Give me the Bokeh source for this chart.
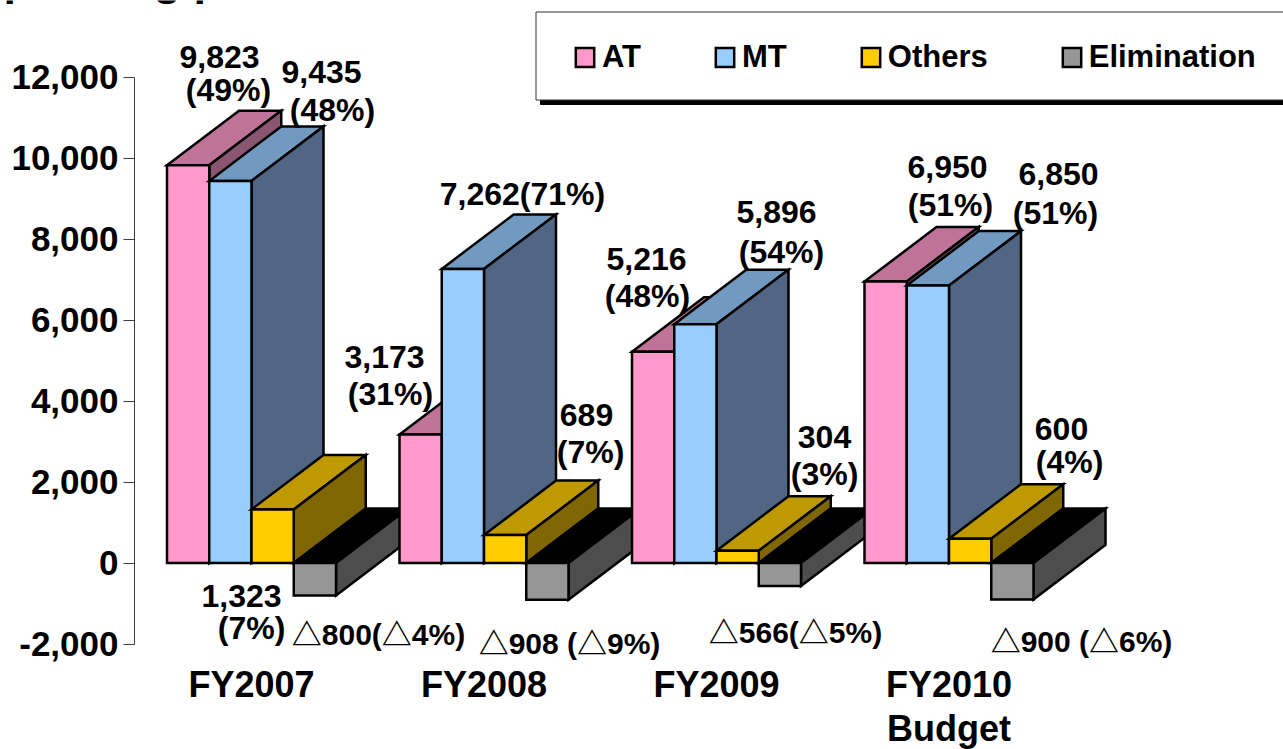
from bokeh.plotting import figure
from bokeh.embed import file_html
from bokeh.resources import INLINE
from bokeh.core.properties import value
from bokeh.models import FixedTicker, Legend, LegendItem, LinearAxis

categories = ["FY2007", "FY2008", "FY2009", "FY2010"]
category_notes = ["", "", "", "Budget"]
series_names = ["AT", "MT", "Others", "Elimination"]
AT = [9823, 3173, 5216, 6950]
MT = [9435, 7262, 5896, 6850]
Others = [1323, 689, 304, 600]
Elimination = [-800, -908, -566, -900]
AT_share = [49, 31, 48, 51]
MT_share = [48, 71, 54, 51]
Others_share = [7, 7, 3, 4]
Elim_share = [-4, -9, -5, -6]
y_ticks = [-2000, 0, 2000, 4000, 6000, 8000, 10000, 12000]
title_text = "Operating profit"

FONT = "Liberation Sans"
W, H = 1283, 749
X0_PX, GROUP_PX = 251.0, 232.5
Y0_PX, PX_PER_UNIT = 562.5, 0.0405
AXIS_X_PX, AXIS_Y_PX = 134, 662
BAR_W = 42.25 / GROUP_PX
DX = 72.0 / GROUP_PX
DY = 54.5 / PX_PER_UNIT
BASE_FIX = 0.37  # em, text placement correction for the alphabetic baseline

def dx(px):
    return (px - X0_PX) / GROUP_PX
def dy(py):
    return (Y0_PX - py) / PX_PER_UNIT

p = figure(width=W, height=H, x_range=(dx(0), dx(W)), y_range=(dy(H), dy(0)),
           output_backend="svg", toolbar_location=None, margin=(0, 0, 0, 0),
           min_border=0, x_axis_location=None, y_axis_location=None,
           outline_line_color=None, background_fill_color="white", border_fill_color="white")
p.grid.visible = False

def put_text(x, y, txt, size, ox=0, oy=0, font=value(FONT), align="center"):
    p.text(x=[x], y=[y], text=[txt], text_font=font, text_font_style="bold",
           text_font_size=f"{size}px", text_color="black", text_align=align,
           text_baseline="alphabetic", x_offset=ox, y_offset=oy - BASE_FIX * size)

# legend frame
p.quad(left=[dx(540)], right=[dx(1300)], top=[dy(99)], bottom=[dy(104)],
       fill_color="black", line_color="black", line_width=1)
p.quad(left=[dx(535.5)], right=[dx(1300)], top=[dy(11.5)], bottom=[dy(99.5)],
       fill_color="white", line_color="#333333", line_width=1)

faces = {
    "AT": ("#FF99CC", "#BF7399", "#8A5570"),
    "MT": ("#99CCFF", "#7299BF", "#506684"),
    "Others": ("#FFCC00", "#BF9900", "#806600"),
    "Elimination": ("#969696", "#000000", "#4D4D4D"),
}
all_values = {"AT": AT, "MT": MT, "Others": Others, "Elimination": Elimination}
legend_rend = {}
style = dict(line_color="black", line_width=2.5, line_join="miter")
for g in range(len(categories)):
    for s, name in enumerate(series_names):
        v = all_values[name][g]
        x0 = g + (s - 2) * BAR_W
        x1 = x0 + BAR_W
        top = max(v, 0)
        bot = min(v, 0)
        front, tc, side = faces[name]
        p.patch([x0, x0 + DX, x1 + DX, x1], [top, top + DY, top + DY, top], fill_color=tc, **style)
        p.patch([x1, x1 + DX, x1 + DX, x1], [bot, bot + DY, top + DY, top], fill_color=side, **style)
        r = p.patch([x0, x1, x1, x0], [bot, bot, top, top], fill_color=front, **style)
        if g == 0:
            legend_rend[name] = r

def fmt(v):
    return f"\u25b3{-v:,}" if v < 0 else f"{v:,}"

# label lines, anchored to the bar they describe; (centre px, baseline px)
lines = [
    ("AT", 0, f"{AT[0]:,}", 219, 68), ("AT", 0, f"({AT_share[0]}%)", 228, 101),
    ("MT", 0, f"{MT[0]:,}", 321, 83), ("MT", 0, f"({MT_share[0]}%)", 332, 121),
    ("Others", 0, f"{Others[0]:,}", 241, 607), ("Others", 0, f"({Others_share[0]}%)", 251, 639),
    ("AT", 1, f"{AT[1]:,}", 384, 368), ("AT", 1, f"({AT_share[1]}%)", 390, 405),
    ("MT", 1, f"{MT[1]:,}({MT_share[1]}%)", 522, 205),
    ("Others", 1, f"{Others[1]:,}", 586, 426), ("Others", 1, f"({Others_share[1]}%)", 590, 463),
    ("AT", 2, f"{AT[2]:,}", 646, 270), ("AT", 2, f"({AT_share[2]}%)", 647, 307),
    ("MT", 2, f"{MT[2]:,}", 776, 223), ("MT", 2, f"({MT_share[2]}%)", 781, 263),
    ("Others", 2, f"{Others[2]:,}", 824, 448), ("Others", 2, f"({Others_share[2]}%)", 824, 485),
    ("AT", 3, f"{AT[3]:,}", 947, 178), ("AT", 3, f"({AT_share[3]}%)", 950, 216),
    ("MT", 3, f"{MT[3]:,}", 1058, 185), ("MT", 3, f"({MT_share[3]}%)", 1055, 224),
    ("Others", 3, f"{Others[3]:,}", 1061, 440), ("Others", 3, f"({Others_share[3]}%)", 1069, 473),
]
for name, g, txt, cx, base in lines:
    s = series_names.index(name)
    xb = g + (s - 1.5) * BAR_W
    vb = all_values[name][g]
    put_text(xb, vb, txt, 32, cx - (X0_PX + xb * GROUP_PX), base - (Y0_PX - vb * PX_PER_UNIT))

elim_pos = [(378, 645, ""), (569, 654, " "), (795, 643, ""), (1081, 652, " ")]
for g, (cx, base, gap) in enumerate(elim_pos):
    xb = g + 1.5 * BAR_W
    vb = Elimination[g]
    txt = f"{fmt(vb)}{gap}(\u25b3{-Elim_share[g]}%)"
    put_text(xb, vb, txt, 30, cx - (X0_PX + xb * GROUP_PX), base - (Y0_PX - vb * PX_PER_UNIT),
             font=value("'Liberation Sans', 'Noto Sans CJK JP'"))

# axes
ya = LinearAxis(fixed_location=dx(AXIS_X_PX))
ya.ticker = FixedTicker(ticks=y_ticks)
ya.bounds = (-2000, 12000)
ya.major_label_overrides = {t: f"{t:,}" for t in y_ticks}
ya.major_label_text_font = FONT
ya.major_label_text_font_style = "bold"
ya.major_label_text_font_size = "35px"
ya.major_label_text_color = "black"
ya.axis_line_color = "#404040"
ya.axis_line_width = 1
ya.major_tick_line_color = "#404040"
ya.major_tick_out = 11
ya.major_tick_in = 0
ya.minor_tick_line_color = None
ya.major_label_standoff = 5
p.add_layout(ya, "left")

xa = LinearAxis(fixed_location=dy(AXIS_Y_PX))
xa.ticker = FixedTicker(ticks=list(range(len(categories))))
xa.major_label_overrides = {i: c for i, c in enumerate(categories)}
xa.major_label_text_font = FONT
xa.major_label_text_font_style = "bold"
xa.major_label_text_font_size = "36px"
xa.major_label_text_color = "black"
xa.axis_line_color = None
xa.major_tick_line_color = None
xa.minor_tick_line_color = None
xa.major_tick_out = 0
xa.major_tick_in = 0
xa.major_label_standoff = 1
p.add_layout(xa, "below")

for g, note in enumerate(category_notes):
    if note:
        put_text(g, dy(741), note, 36)

legend = Legend(items=[LegendItem(label=value(n), renderers=[legend_rend[n]]) for n in series_names],
                orientation="horizontal", location=(573, 674), padding=0, margin=0, spacing=72,
                glyph_width=23, glyph_height=24, label_standoff=6, label_height=23,
                label_text_font=FONT, label_text_font_style="bold", label_text_font_size="31px",
                label_text_color="black", border_line_color=None, background_fill_alpha=0)
p.add_layout(legend, "center")

put_text(dx(-32), dy(-4.5), title_text, 45, align="left")

open("out.html", "w").write(file_html(p, INLINE))
